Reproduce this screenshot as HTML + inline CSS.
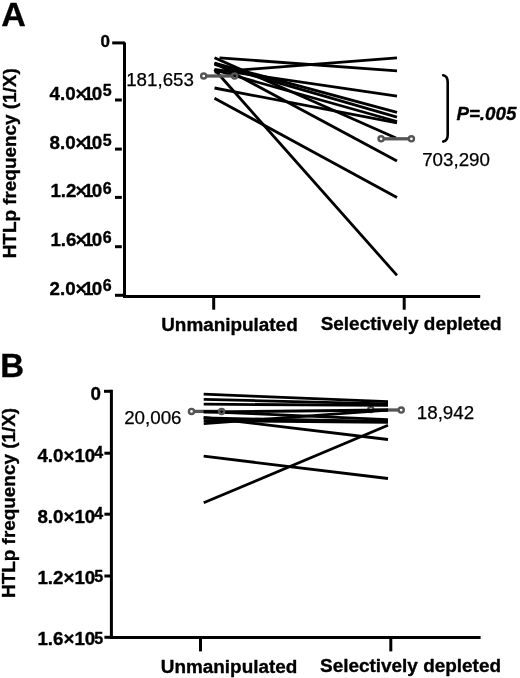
<!DOCTYPE html>
<html>
<head>
<meta charset="utf-8">
<title>HTLp frequency</title>
<style>
html,body{margin:0;padding:0;background:#fff;}
body{width:520px;height:678px;overflow:hidden;font-family:"Liberation Sans",sans-serif;}
svg{display:block;filter:blur(0.45px);}
text{font-family:"Liberation Sans",sans-serif;fill:#000;stroke:#000;stroke-width:0.35px;stroke-linejoin:round;}
.val{stroke-width:0.25px;}
.pl{font-size:34px;font-weight:bold;}
.ax{font-size:18.75px;font-weight:bold;}
.tk{font-size:18.75px;font-weight:bold;}
.tk .sa{font-size:16px;}
.tk .sb{font-size:16px;}
.val{font-size:18.75px;}
.pv{font-size:18.75px;font-weight:bold;font-style:italic;}
.ln line{stroke:#000;stroke-width:2.8;}
.axl{stroke:#000;stroke-width:3;fill:none;}
.mk line{stroke:#555;stroke-width:3.3;}
.mk circle{stroke:#555;stroke-width:2.4;fill:none;}
</style>
</head>
<body>
<svg width="520" height="678" viewBox="0 0 520 678">
<rect x="0" y="0" width="520" height="678" fill="#fff"/>

<!-- ================= PANEL A ================= -->
<text class="pl" x="1.2" y="26">A</text>
<text class="ax" transform="translate(15.5,258.3) rotate(-90)" textLength="190" lengthAdjust="spacingAndGlyphs">HTLp frequency (1/X)</text>

<!-- axes -->
<path class="axl" d="M124.5,42.6 V296.5 H480.2"/>
<g class="axl">
<line x1="112.2" y1="42.9" x2="124.8" y2="42.9"/>
<line x1="115" y1="100.0" x2="121.8" y2="100.0"/>
<line x1="115" y1="149.1" x2="121.8" y2="149.1"/>
<line x1="115" y1="197.4" x2="121.8" y2="197.4"/>
<line x1="115" y1="246.7" x2="121.8" y2="246.7"/>
<line x1="115" y1="295.3" x2="123.5" y2="295.3"/>
<line x1="213.7" y1="296.5" x2="213.7" y2="309.7"/>
<line x1="404.2" y1="296.5" x2="404.2" y2="309.7"/>
</g>

<!-- tick labels -->
<g class="tk">
<text x="100.6" y="47.1" style="font-size:17px">0</text>
<text y="100.0"><tspan x="49.6">4.0</tspan><tspan x="75.4">×</tspan><tspan x="83">1</tspan><tspan x="91.8">0</tspan></text><text class="sa" x="102.7" y="95.8">5</text>
<text y="148.7"><tspan x="49.6">8.0</tspan><tspan x="75.4">×</tspan><tspan x="83">1</tspan><tspan x="91.8">0</tspan></text><text class="sa" x="102.7" y="145.5">5</text>
<text y="196.8"><tspan x="50.4">1.2</tspan><tspan x="75.4">×</tspan><tspan x="83">1</tspan><tspan x="91.8">0</tspan></text><text class="sa" x="102.7" y="193.5">6</text>
<text y="246.0"><tspan x="50.4">1.6</tspan><tspan x="75.4">×</tspan><tspan x="83">1</tspan><tspan x="91.8">0</tspan></text><text class="sa" x="102.7" y="242.7">6</text>
<text y="295.0"><tspan x="49.6">2.0</tspan><tspan x="75.4">×</tspan><tspan x="83">1</tspan><tspan x="91.8">0</tspan></text><text class="sa" x="102.7" y="291.2">6</text>
</g>

<!-- data lines -->
<g class="ln">
<line x1="219.5" y1="57.9" x2="397" y2="70.8"/>
<line x1="214.5" y1="72" x2="397" y2="57.8"/>
<line x1="214.5" y1="69.4" x2="397" y2="96.2"/>
<line x1="214.5" y1="63.2" x2="397" y2="112.3"/>
<line x1="214.5" y1="64.5" x2="397" y2="117.2"/>
<line x1="214.5" y1="70" x2="397" y2="121.5"/>
<line x1="214.5" y1="88" x2="397" y2="122.9"/>
<line x1="214.5" y1="63" x2="397" y2="161"/>
<line x1="214.5" y1="57.7" x2="396" y2="138"/>
<line x1="214.5" y1="98.3" x2="397" y2="197.5"/>
<line x1="214.5" y1="69.5" x2="397" y2="275.4"/>
</g>

<!-- median markers -->
<g class="mk">
<line x1="206.2" y1="76.0" x2="232.1" y2="76.0"/>
<circle cx="203.7" cy="76.0" r="2.55"/>
<circle cx="234.6" cy="76.0" r="2.55"/>
<line x1="383.6" y1="138.8" x2="408.9" y2="138.8"/>
<circle cx="381.1" cy="138.8" r="2.55"/>
<circle cx="411.4" cy="138.8" r="2.55"/>
</g>

<text class="val" x="126.2" y="86.4">181,653</text>
<text class="val" x="422.2" y="165.6">703,290</text>

<!-- bracket -->
<path d="M443.2,75.3 C446.6,76 447.7,78.2 447.7,82.2 V134.7 C447.7,138.7 446.6,140.9 443.2,141.6" fill="none" stroke="#000" stroke-width="2.6" stroke-linecap="round"/>
<text class="pv" x="456.4" y="119.8">P=.005</text>

<text class="ax" x="161.2" y="330.6" textLength="136.5" lengthAdjust="spacingAndGlyphs">Unmanipulated</text>
<text class="ax" x="320.7" y="329.8" textLength="181" lengthAdjust="spacingAndGlyphs">Selectively depleted</text>

<!-- ================= PANEL B ================= -->
<text class="pl" x="0.3" y="377.3" style="font-size:33px">B</text>
<text class="ax" transform="translate(15.4,597.9) rotate(-90)" textLength="190" lengthAdjust="spacingAndGlyphs">HTLp frequency (1/X)</text>

<path class="axl" d="M111.4,389.8 V637.5 H480.6"/>
<g class="axl">
<line x1="104" y1="391.3" x2="111.4" y2="391.3"/>
<line x1="104.4" y1="453.2" x2="111.4" y2="453.2"/>
<line x1="104.4" y1="514.2" x2="111.4" y2="514.2"/>
<line x1="104.4" y1="576.0" x2="111.4" y2="576.0"/>
<line x1="104.4" y1="637.3" x2="111.4" y2="637.3"/>
<line x1="200.5" y1="637.5" x2="200.5" y2="651.4"/>
<line x1="390.8" y1="637.5" x2="390.8" y2="651.4"/>
</g>

<g class="tk">
<text x="90.4" y="400.2">0</text>
<text x="37.4" y="462.0">4.0×10</text><text class="sb" x="94.3" y="458.4">4</text>
<text x="37.4" y="522.8">8.0×10</text><text class="sb" x="94.3" y="519.2">4</text>
<text x="37.4" y="584.4">1.2×10</text><text class="sb" x="94.3" y="582.4">5</text>
<text x="37.4" y="645.4">1.6×10</text><text class="sb" x="94.3" y="643.6">5</text>
</g>

<g class="mk">
<line x1="194.0" y1="411.4" x2="219.1" y2="411.4"/>
<line x1="373.3" y1="410.0" x2="398.5" y2="410.0"/>
<circle cx="370.8" cy="409.4" r="2.55"/>
</g>
<g class="ln">
<line x1="203.7" y1="394.2" x2="388" y2="401.7"/>
<line x1="203.7" y1="399.4" x2="388" y2="403.8"/>
<line x1="203.7" y1="404.2" x2="388" y2="405.4"/>
<line x1="203.7" y1="412" x2="388" y2="410"/>
<line x1="203.7" y1="411.5" x2="388" y2="419.6"/>
<line x1="203.7" y1="418" x2="388" y2="421.5"/>
<line x1="203.7" y1="420.7" x2="388" y2="422.4"/>
<line x1="203.7" y1="423.6" x2="388" y2="410.2"/>
<line x1="203.7" y1="417.4" x2="388" y2="439.5"/>
<line x1="203.7" y1="456.2" x2="388" y2="478.5"/>
<line x1="203.7" y1="502.8" x2="388" y2="425.3"/>
</g>

<g class="mk">
<circle cx="191.5" cy="411.4" r="2.55"/>
<circle cx="221.6" cy="411.4" r="2.55"/>
<circle cx="401.2" cy="410.1" r="2.55"/>
</g>

<text class="val" x="124.2" y="423.9">20,006</text>
<text class="val" x="416.8" y="419.4">18,942</text>

<text class="ax" x="160.8" y="673" textLength="136.5" lengthAdjust="spacingAndGlyphs">Unmanipulated</text>
<text class="ax" x="320" y="672" textLength="181" lengthAdjust="spacingAndGlyphs">Selectively depleted</text>
</svg>
</body>
</html>
